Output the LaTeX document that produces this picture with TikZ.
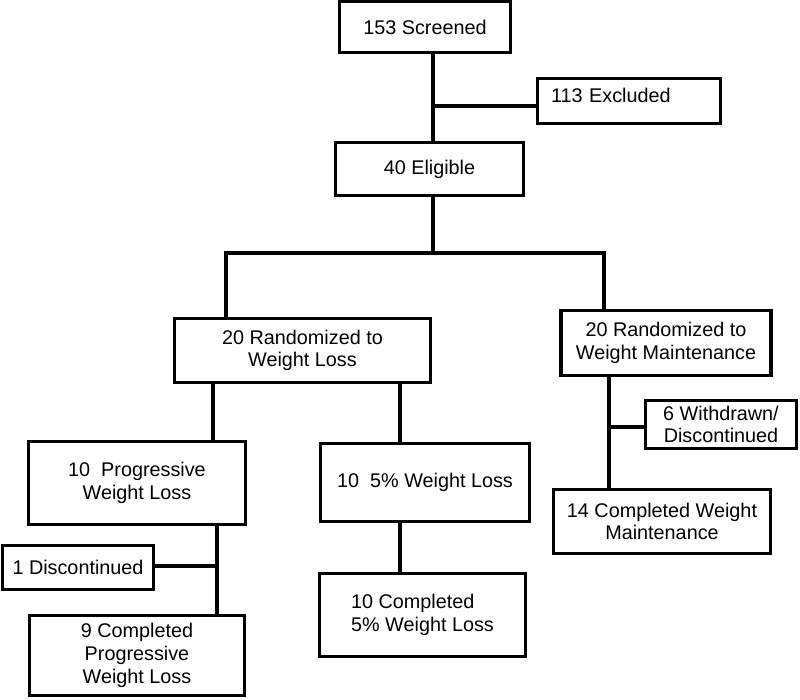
\documentclass[tikz,border=0pt]{standalone}
\usepackage{fontspec}
\setmainfont{Liberation Sans}
\begin{document}
\begin{tikzpicture}[x=1pt,y=-1pt,
  box/.style={draw=black,line width=3.4pt,rectangle,inner sep=0pt,outer sep=0pt,align=center,
    font=\fontsize{19.8pt}{22.7pt}\selectfont},
  link/.style={draw=black,line width=3.4pt}]
\useasboundingbox (0,0) rectangle (800,699);
% boxes
\node[box,minimum width=171,minimum height=51] (screen) at (425,27) {153 Screened};
\node[box,minimum width=183,minimum height=45,text width=156,align=left,inner xsep=13.5pt,
      text height=14pt,text depth=12pt] (excl) at (629,101) {113 Excluded};
\node[box,minimum width=188,minimum height=53] (elig) at (429.5,169) {40 Eligible};
\node[box,minimum width=256,minimum height=64] (rwl) at (302.5,350.5) {20 Randomized to\\Weight Loss};
\node[box,minimum width=210,minimum height=65] (rwm) at (666,343) {20 Randomized to\\Weight Maintenance};
\node[box,minimum width=217,minimum height=83] (prog) at (137,483) {10~~Progressive\\Weight Loss};
\node[box,minimum width=209,minimum height=78] (five) at (425,482.5) {10~~5\% Weight Loss};
\node[box,minimum width=151,minimum height=48] (wd) at (721,424.5) {6 Withdrawn/\\Discontinued};
\node[box,minimum width=217,minimum height=64] (cwm) at (662,521.5) {14 Completed Weight\\Maintenance};
\node[box,minimum width=151,minimum height=44] (disc) at (78,567.5) {1 Discontinued};
\node[box,minimum width=215,minimum height=80] (cprog) at (137,655.5) {9 Completed\\Progressive\\Weight Loss};
\node[box,minimum width=206,minimum height=83,align=left] (cfive) at (422.5,615) {10 Completed\\5\% Weight Loss};
% junction coordinates
\coordinate (jx) at (433,106);
\coordinate (bus) at (433,253);
\coordinate (busL) at (226,253);
\coordinate (busR) at (604,253);
\coordinate (xa) at (213,0);
\coordinate (xb) at (400,0);
\coordinate (jp) at (217,566);
\coordinate (jw) at (609,427);
% connectors
\draw[link] (screen.south -| jx) -- (elig.north -| jx);
\draw[link] (jx) -- (excl.west |- jx);
\draw[link] (elig.south -| bus) -- (bus);
\draw[link] ([xshift=-1.7pt]busL) -- ([xshift=1.7pt]busR);
\draw[link] (busL) -- (rwl.north -| busL);
\draw[link] (busR) -- (rwm.north -| busR);
\draw[link] (rwl.south -| xa) -- (prog.north -| xa);
\draw[link] (rwl.south -| xb) -- (five.north -| xb);
\draw[link] (prog.south -| jp) -- (cprog.north -| jp);
\draw[link] (jp) -- (disc.east |- jp);
\draw[link] (five.south -| xb) -- (cfive.north -| xb);
\draw[link] (rwm.south -| jw) -- (cwm.north -| jw);
\draw[link] (jw) -- (wd.west |- jw);
\end{tikzpicture}
\end{document}
